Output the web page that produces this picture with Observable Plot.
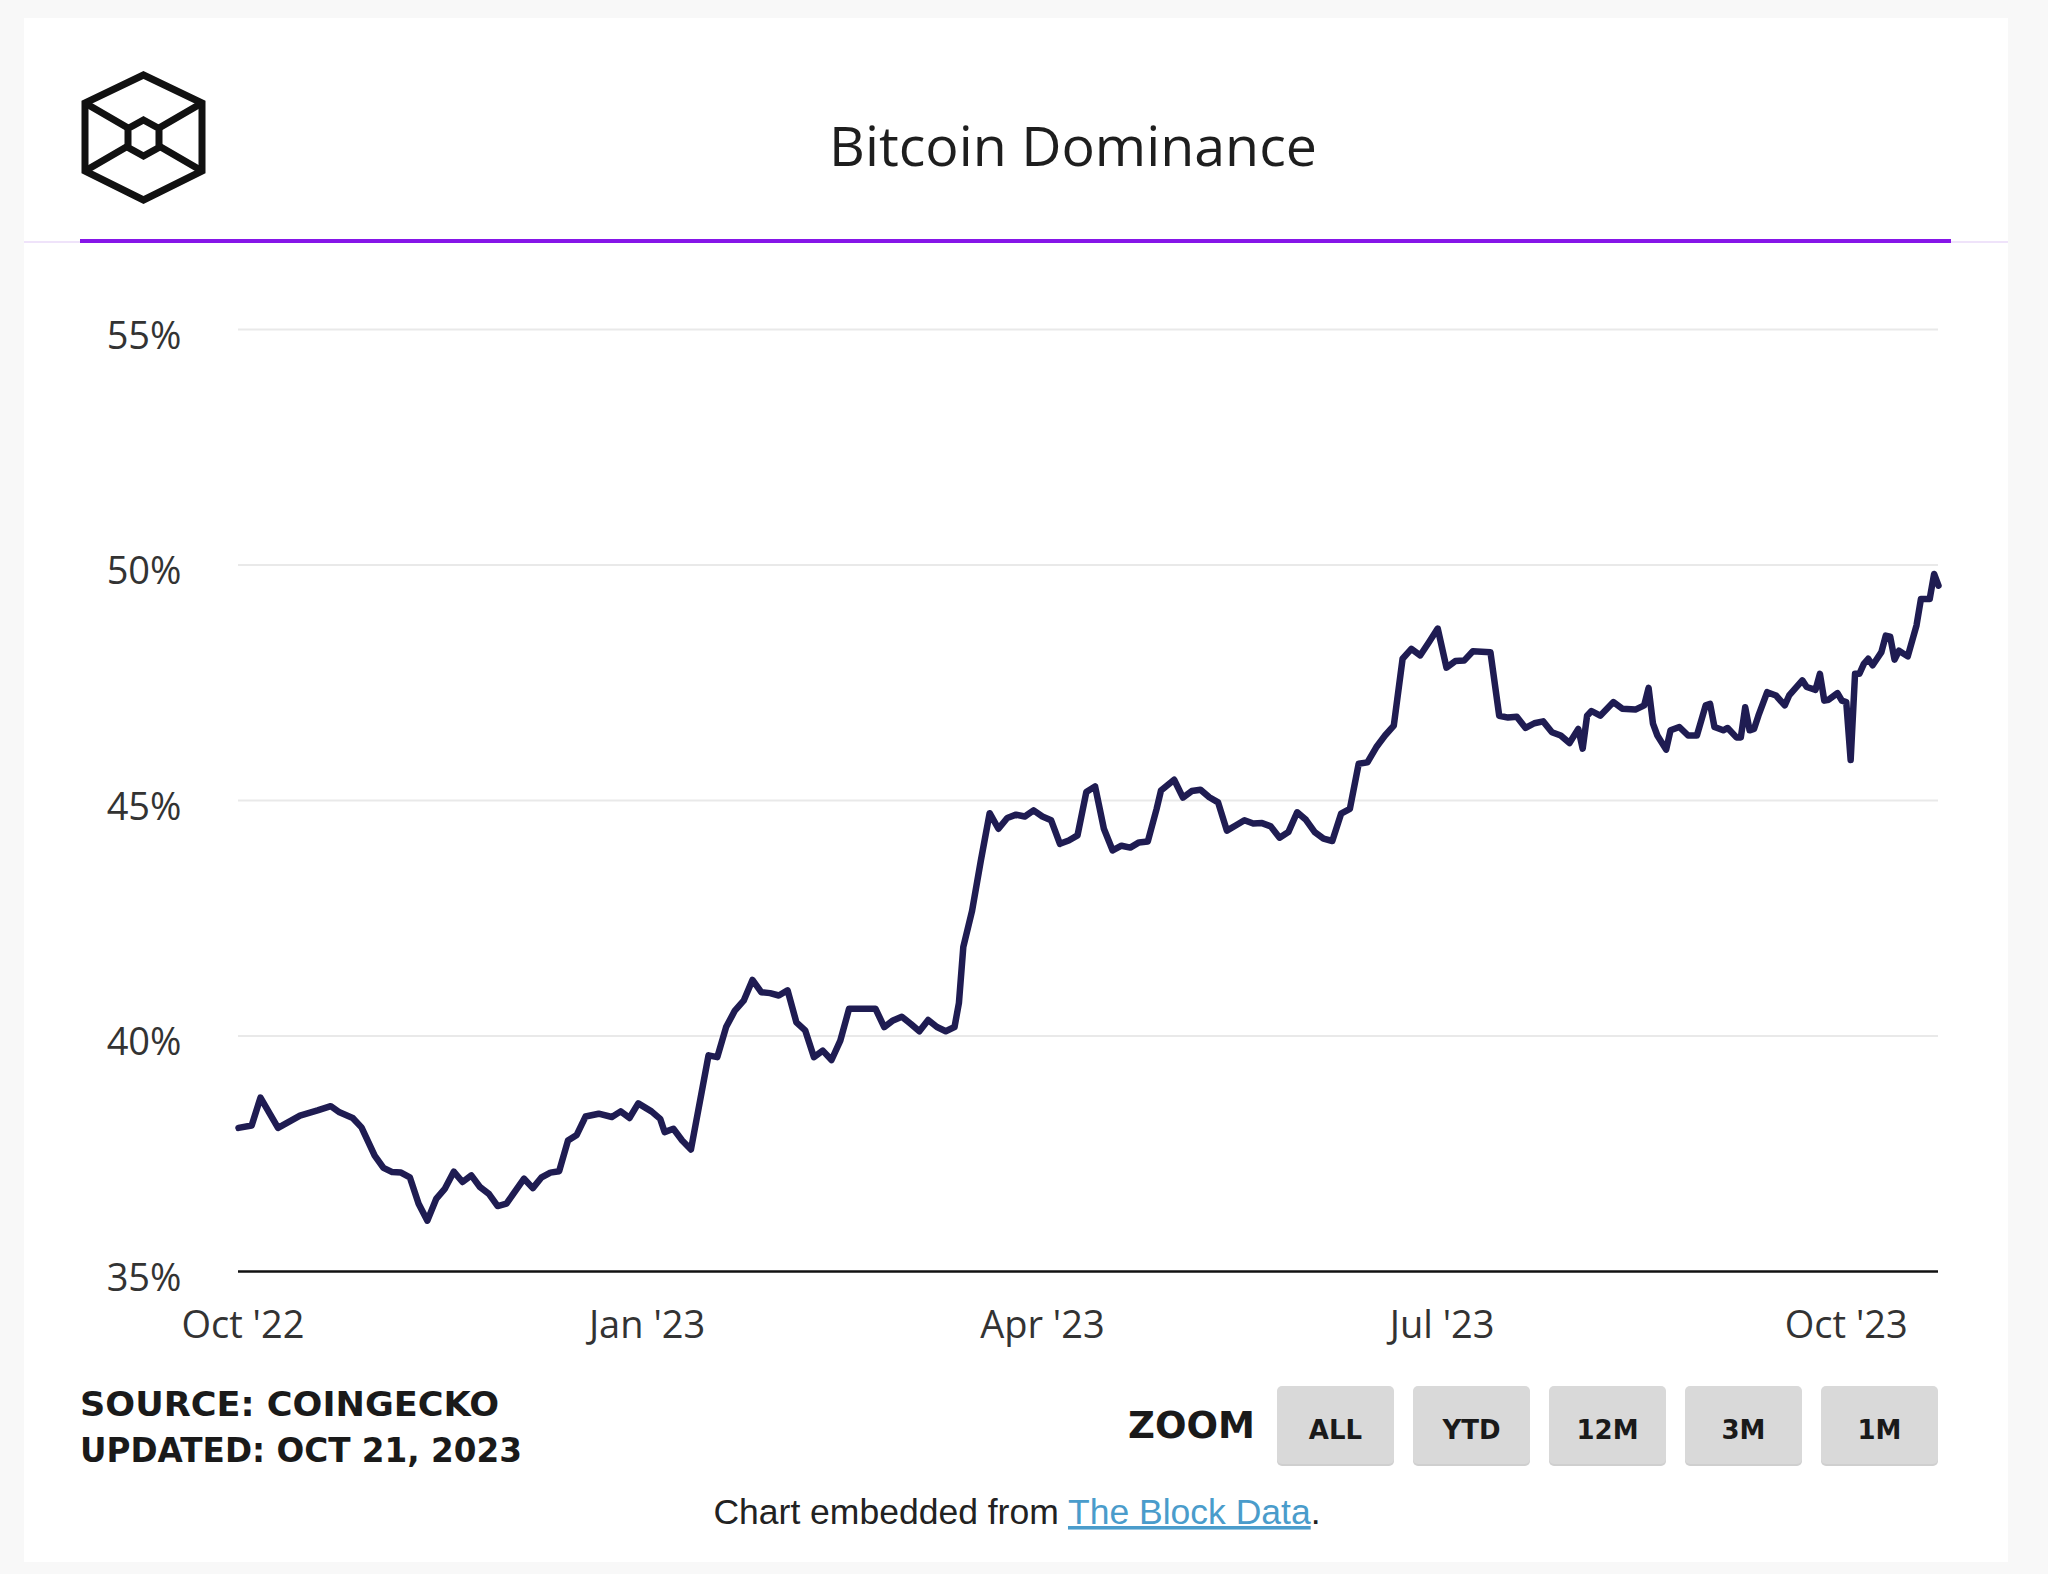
<!DOCTYPE html>
<html>
<head>
<meta charset="utf-8">
<script src="https://cdn.jsdelivr.net/npm/d3@7"></script>
<script src="https://cdn.jsdelivr.net/npm/@observablehq/plot@0.6"></script>
<style>
  html, body { margin: 0; padding: 0; background: #f8f8f8; }
  body { width: 2048px; height: 1574px; position: relative; overflow: hidden; }
  #deco { position: absolute; left: 0; top: 0; }
  #chart { position: absolute; left: 0; top: 280px; }
</style>
</head>
<body>
<svg id="deco" width="2048" height="1574" xmlns="http://www.w3.org/2000/svg">
  <rect x="24" y="18" width="1984" height="1544" fill="#ffffff"/>
  <!-- logo -->
  <g fill="none" stroke="#111" stroke-width="7" stroke-linejoin="miter">
    <path d="M143.5,75 L202,103 L202,171 L143.5,200 L85,171 L85,103 Z"/>
    <path d="M85,103 L202,171 M202,103 L85,171"/>
    <path d="M143.5,120 L159,128.5 L159,147.5 L143.5,156 L128,147.5 L128,128.5 Z" fill="#fff"/>
  </g>
  <text x="1073" y="166" text-anchor="middle" font-family="'Open Sans', sans-serif" font-size="55.5" fill="#1e1e1e">Bitcoin Dominance</text>
  <rect x="24" y="241" width="1984" height="2" fill="#efe3fa"/>
  <rect x="80" y="239" width="1871" height="4" fill="#8616e8"/>
  <!-- footer -->
  <g font-family="'DejaVu Sans', sans-serif" font-weight="bold" fill="#1a1a1a">
    <text x="80" y="1416" font-size="34" textLength="419" lengthAdjust="spacingAndGlyphs">SOURCE: COINGECKO</text>
    <text x="80" y="1462" font-size="34" textLength="442" lengthAdjust="spacingAndGlyphs">UPDATED: OCT 21, 2023</text>
    <text x="1128" y="1438" font-size="38" textLength="127" lengthAdjust="spacingAndGlyphs">ZOOM</text>
  </g>
  <g id="buttons" font-family="'DejaVu Sans', sans-serif" font-weight="bold" font-size="26" fill="#1a1a1a" text-anchor="middle"></g>
  <text x="1017" y="1524" text-anchor="middle" font-family="'Liberation Sans', sans-serif" font-size="35.5" fill="#222">Chart embedded from <tspan fill="#4a9ccb" text-decoration="underline">The Block Data</tspan>.</text>
</svg>
<div id="chart"></div>
<script>
// ---- data ----
const dates = [
  "2022-09-30","2022-10-03","2022-10-05","2022-10-09","2022-10-14","2022-10-18","2022-10-21","2022-10-23","2022-10-26","2022-10-28",
  "2022-10-31","2022-11-02","2022-11-04","2022-11-06","2022-11-08","2022-11-10","2022-11-12","2022-11-14","2022-11-16","2022-11-18",
  "2022-11-20","2022-11-22","2022-11-24","2022-11-26","2022-11-28","2022-11-30","2022-12-04","2022-12-06","2022-12-08","2022-12-10",
  "2022-12-12","2022-12-14","2022-12-16","2022-12-18","2022-12-21","2022-12-24","2022-12-26","2022-12-28","2022-12-30","2023-01-02",
  "2023-01-04","2023-01-05","2023-01-07","2023-01-09","2023-01-11","2023-01-15","2023-01-17","2023-01-19","2023-01-21","2023-01-23",
  "2023-01-25","2023-01-27","2023-01-29","2023-01-31","2023-02-02","2023-02-04","2023-02-06","2023-02-08","2023-02-10","2023-02-12",
  "2023-02-14","2023-02-16","2023-02-18","2023-02-22","2023-02-24","2023-02-26","2023-02-28","2023-03-02","2023-03-04","2023-03-06",
  "2023-03-08","2023-03-10","2023-03-12","2023-03-13","2023-03-14","2023-03-16","2023-03-18","2023-03-20","2023-03-22","2023-03-24",
  "2023-03-26","2023-03-28","2023-03-30","2023-04-01","2023-04-03","2023-04-05","2023-04-07","2023-04-09","2023-04-11","2023-04-13",
  "2023-04-15","2023-04-17","2023-04-19","2023-04-21","2023-04-23","2023-04-25","2023-04-27","2023-04-28","2023-05-01","2023-05-03",
  "2023-05-05","2023-05-07","2023-05-09","2023-05-11","2023-05-13","2023-05-15","2023-05-17","2023-05-19","2023-05-21","2023-05-23",
  "2023-05-25","2023-05-27","2023-05-29","2023-05-31","2023-06-02","2023-06-04","2023-06-06","2023-06-08","2023-06-10","2023-06-12",
  "2023-06-14","2023-06-16","2023-06-18","2023-06-20","2023-06-22","2023-06-24","2023-06-26","2023-06-28","2023-06-30","2023-07-02",
  "2023-07-04","2023-07-06","2023-07-08","2023-07-12","2023-07-14","2023-07-16","2023-07-18","2023-07-20","2023-07-22","2023-07-24",
  "2023-07-26","2023-07-28","2023-07-30","2023-08-01","2023-08-02","2023-08-03","2023-08-04","2023-08-06","2023-08-09","2023-08-11",
  "2023-08-14","2023-08-16","2023-08-17","2023-08-18","2023-08-19","2023-08-21","2023-08-22","2023-08-24","2023-08-26","2023-08-28",
  "2023-08-30","2023-08-31","2023-09-01","2023-09-03","2023-09-04","2023-09-06","2023-09-07","2023-09-08","2023-09-09","2023-09-10",
  "2023-09-11","2023-09-13","2023-09-15","2023-09-17","2023-09-18","2023-09-21","2023-09-22","2023-09-24","2023-09-25","2023-09-26",
  "2023-09-27","2023-09-29","2023-09-30","2023-10-01","2023-10-02","2023-10-03","2023-10-04","2023-10-05","2023-10-06","2023-10-07",
  "2023-10-08","2023-10-09","2023-10-10","2023-10-11","2023-10-12","2023-10-13","2023-10-15","2023-10-17","2023-10-18","2023-10-20",
  "2023-10-21","2023-10-22"
];
const dominance = [
  38.05,38.10,38.69,38.05,38.31,38.42,38.51,38.38,38.26,38.06,
  37.46,37.20,37.11,37.10,37.00,36.44,36.08,36.54,36.76,37.12,
  36.90,37.04,36.79,36.65,36.39,36.44,36.97,36.77,37.00,37.10,
  37.13,37.78,37.90,38.29,38.35,38.28,38.40,38.26,38.57,38.40,
  38.24,37.96,38.03,37.78,37.59,39.59,39.55,40.19,40.54,40.75,
  41.19,40.93,40.91,40.86,40.97,40.29,40.12,39.55,39.69,39.49,
  39.90,40.58,40.58,40.58,40.19,40.33,40.41,40.26,40.10,40.34,
  40.19,40.10,40.19,40.70,41.89,42.66,43.73,44.73,44.40,44.63,
  44.70,44.66,44.79,44.66,44.58,44.08,44.15,44.26,45.18,45.30,
  44.40,43.94,44.04,44.00,44.11,44.13,44.82,45.21,45.44,45.06,
  45.20,45.23,45.07,44.96,44.36,44.47,44.58,44.51,44.52,44.45,
  44.21,44.33,44.75,44.59,44.33,44.19,44.14,44.72,44.82,45.78,
  45.81,46.13,46.38,46.59,48.01,48.22,48.08,48.36,48.65,47.82,
  47.96,47.97,48.17,48.15,46.80,46.76,46.78,46.54,46.64,46.68,
  46.45,46.38,46.22,46.52,46.10,46.80,46.90,46.80,47.09,46.95,
  46.93,47.02,47.39,46.63,46.38,46.08,46.49,46.56,46.38,46.38,
  47.02,47.05,46.56,46.49,46.54,46.34,46.34,46.98,46.49,46.52,
  46.80,47.30,47.23,47.02,47.23,47.55,47.41,47.35,47.69,47.12,
  47.14,47.28,47.12,47.09,45.86,47.69,47.69,47.90,48.01,47.87,
  48.01,48.15,48.50,48.48,47.99,48.18,48.06,48.72,49.28,49.28,
  49.81,49.56
];
const xTickDates = ["2022-10-01","2023-01-01","2023-04-01","2023-07-01","2023-10-01"];
const xTickLabels = ["Oct '22","Jan '23","Apr '23","Jul '23","Oct '23"];
const yTicks = [35, 40, 45, 50, 55];
const yGrid = [40, 45, 50, 55];
const zoomButtons = ["ALL", "YTD", "12M", "3M", "1M"];

// ---- buttons (UI decoration) ----
const bg = document.getElementById("buttons");
zoomButtons.forEach((label, i) => {
  const x = 1277 + i * 136;
  const ns = "http://www.w3.org/2000/svg";
  const sh = document.createElementNS(ns, "rect");
  sh.setAttribute("x", x); sh.setAttribute("y", 1388); sh.setAttribute("width", 117); sh.setAttribute("height", 78);
  sh.setAttribute("rx", 5); sh.setAttribute("fill", "#cfcfcf");
  bg.appendChild(sh);
  const r = document.createElementNS(ns, "rect");
  r.setAttribute("x", x); r.setAttribute("y", 1386); r.setAttribute("width", 117); r.setAttribute("height", 78);
  r.setAttribute("rx", 5); r.setAttribute("fill", "#d9d9d9");
  bg.appendChild(r);
  const t = document.createElementNS(ns, "text");
  t.setAttribute("x", x + 58.5); t.setAttribute("y", 1439);
  t.textContent = label;
  bg.appendChild(t);
});

// ---- chart ----
const data = dates.map((d, i) => ({date: new Date(d + "T00:00:00Z"), value: dominance[i]}));
const xTicks = xTickDates.map(d => new Date(d + "T00:00:00Z"));
const labelByTime = new Map(xTicks.map((d, i) => [d.getTime(), xTickLabels[i]]));

const chart = Plot.plot({
  width: 2048,
  height: 1080,
  marginLeft: 238,
  marginRight: 110,
  marginTop: 49,
  marginBottom: 89,
  style: {fontFamily: "'Open Sans', sans-serif", fontSize: "38px", color: "#333", background: "transparent", overflow: "visible"},
  x: {type: "utc", domain: [new Date("2022-09-30T00:00:00Z"), new Date("2023-10-22T00:00:00Z")]},
  y: {domain: [35, 55]},
  marks: [
    Plot.ruleY(yGrid, {stroke: "#e9e9e9", strokeWidth: 2}),
    Plot.axisY(yTicks, {tickSize: 0, tickPadding: 57, tickFormat: d => d + "%", dy: 7, fontSize: 38, fill: "#333", label: null}),
    Plot.axisX(xTicks, {tickSize: 0, tickPadding: 40, tickFormat: d => labelByTime.get(d.getTime()), fontSize: 38, fill: "#333", label: null}),
    Plot.ruleY([35], {stroke: "#111", strokeWidth: 2.5}),
    Plot.line(data, {x: "date", y: "value", stroke: "#1f1c52", strokeWidth: 6.5, strokeLinejoin: "round", strokeLinecap: "round"})
  ]
});
document.getElementById("chart").appendChild(chart);
</script>
</body>
</html>
